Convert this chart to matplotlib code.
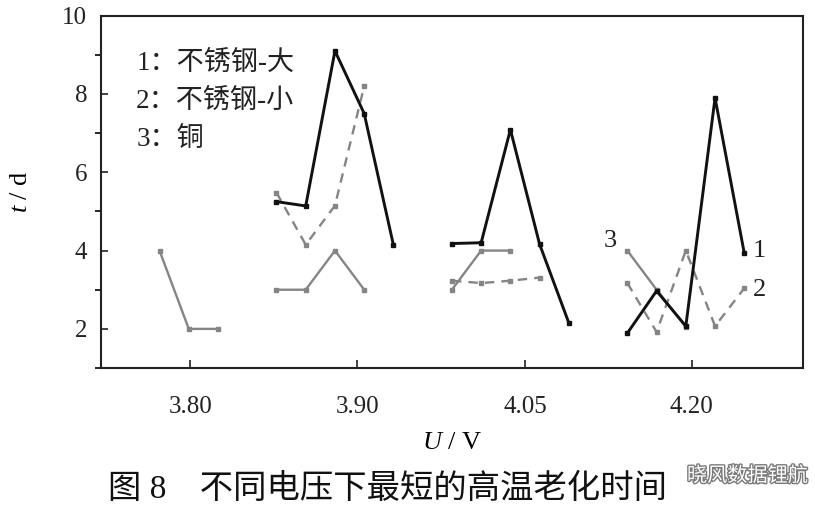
import matplotlib
matplotlib.use('Agg')
import matplotlib.pyplot as plt
import matplotlib.patheffects as pe
from matplotlib.ticker import MultipleLocator

plt.rcParams['font.family'] = ['Liberation Serif', 'Noto Sans CJK SC', 'DejaVu Sans']
plt.rcParams['mathtext.fontset'] = 'custom'
plt.rcParams['mathtext.rm'] = 'Liberation Serif'
plt.rcParams['mathtext.it'] = 'Liberation Serif:italic'

# 电压分组 (横轴类别)
voltages = ['3.80', '3.90', '4.05', '4.20']
group_start = [2, 6, 12, 18]          # 每组第一个样品的序号
tick_pos = [3.05, 8.77, 14.5, 20.2]   # 类别刻度所在位置

# 1: 不锈钢-大
steel_big = {
    '3.90': [5.25, 5.14, 9.10, 7.50, 4.14],
    '4.05': [4.18, 4.20, 7.09, 4.16, 2.15],
    '4.20': [1.89, 2.97, 2.07, 7.90, 3.93],
}
# 2: 不锈钢-小
steel_small = {
    '3.90': [5.48, 4.15, 5.15, 8.20],
    '4.05': [3.23, 3.17, 3.23, 3.31],
    '4.20': [3.17, 1.92, 4.00, 2.07, 3.04],
}
# 3: 铜
copper = {
    '3.80': [4.0, 2.0, 2.0],
    '3.90': [3.0, 3.0, 4.0, 3.0],
    '4.05': [3.0, 4.0, 4.0],
    '4.20': [4.0, 3.0, 2.05],
}

fig = plt.figure(figsize=(8.15, 5.14), dpi=100)
ax = fig.add_axes([0.124, 0.284, 0.861, 0.6855])

black = '#111111'
gray = '#858585'

def draw(series, **kw):
    for v, ys in series.items():
        x0 = group_start[voltages.index(v)]
        xs = [x0 + i for i in range(len(ys))]
        ax.plot(xs, ys, marker='s', markersize=3, **kw)

draw(copper, color=gray, lw=1.7)
draw(steel_small, color=gray, lw=1.7, ls=(0, (4, 3)))
draw(steel_big, color=black, lw=2.1)

ax.set_xlim(0, 24)
ax.set_ylim(1, 10)
ax.set_xticks(tick_pos)
ax.set_xticklabels(voltages)
ax.yaxis.set_major_locator(MultipleLocator(2))
ax.yaxis.set_minor_locator(MultipleLocator(1))
ax.tick_params(axis='both', direction='in', labelsize=18, colors='#222222')
ax.tick_params(axis='x', length=6, width=1.2, pad=20)
ax.tick_params(axis='y', which='major', length=5, width=1.2, pad=10)
ax.tick_params(axis='y', which='minor', length=4, width=1.2)
for s in ax.spines.values():
    s.set_linewidth(1.5)
    s.set_color('#222222')

ax.set_ylabel('$t$ / d', fontsize=19, labelpad=22)
ax.set_xlabel('$U$ / V', fontsize=19, labelpad=10)

# 图例文字
legend_txt = ['1：不锈钢-大', '2：不锈钢-小', '3：铜']
for i, t in enumerate(legend_txt):
    ax.text(0.05, 0.865 - i * 0.108, t, transform=ax.transAxes,
            fontsize=19.5, color='#222222', va='center')

# 曲线编号
ax.text(17.2, 4.25, '3', fontsize=19, color='#222222', va='center')
ax.text(22.3, 3.98, '1', fontsize=19, color='#222222', va='center')
ax.text(22.3, 3.0, '2', fontsize=19, color='#222222', va='center')

fig.text(0.133, 0.047, '图 8　不同电压下最短的高温老化时间', fontsize=24,
         color='#111111', va='center')
wm = fig.text(0.843, 0.072, '晓风数据锂航', fontsize=14.5, color='white',
              va='center')
wm.set_path_effects([pe.withStroke(linewidth=2, foreground='#7a7a7a')])

fig.savefig('out.png', dpi=100)
